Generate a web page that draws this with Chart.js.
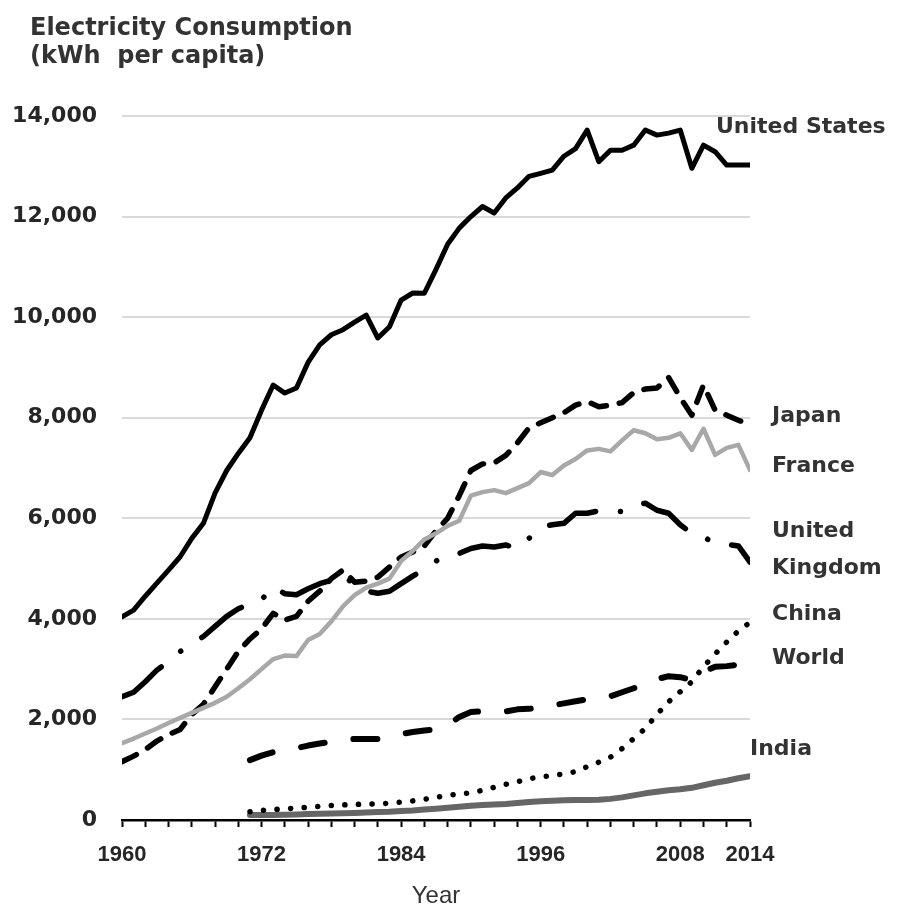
<!DOCTYPE html>
<html>
<head>
<meta charset="utf-8">
<script src="https://cdn.jsdelivr.net/npm/chart.js@4/dist/chart.umd.min.js"></script>
<style>
  html, body { margin: 0; padding: 0; background: #ffffff; }
  #wrap { width: 904px; height: 915px; }
</style>
</head>
<body>
<div id="wrap"><canvas id="c" width="904" height="915"></canvas></div>
<script>
// ---------- data ----------
const years = [1960,1961,1962,1963,1964,1965,1966,1967,1968,1969,
               1970,1971,1972,1973,1974,1975,1976,1977,1978,1979,
               1980,1981,1982,1983,1984,1985,1986,1987,1988,1989,
               1990,1991,1992,1993,1994,1995,1996,1997,1998,1999,
               2000,2001,2002,2003,2004,2005,2006,2007,2008,2009,
               2010,2011,2012,2013,2014];
const years1971 = [1971,1972,1973,1974,1975,1976,1977,1978,1979,
               1980,1981,1982,1983,1984,1985,1986,1987,1988,1989,
               1990,1991,1992,1993,1994,1995,1996,1997,1998,1999,
               2000,2001,2002,2003,2004,2005,2006,2007,2008,2009,
               2010,2011,2012,2013,2014];

const unitedStates = [4040,4175,4450,4710,4970,5235,5600,5900,6500,6950,
                      7290,7600,8150,8650,8490,8590,9100,9450,9650,9750,
                      9900,10040,9585,9810,10340,10480,10475,10950,11450,11770,
                      12000,12200,12070,12370,12570,12800,12860,12925,13200,13350,
                      13720,13090,13320,13320,13420,13720,13620,13660,13720,12960,
                      13420,13290,13025,13025,13025];
const japan = [1160,1270,1400,1570,1700,1800,2100,2300,2650,3000,
               3350,3600,3800,4110,3975,4050,4350,4550,4800,4970,
               4730,4750,4830,5030,5230,5330,5450,5750,6000,6450,
               6950,7080,7100,7250,7500,7800,7900,8000,8100,8250,
               8320,8220,8250,8300,8500,8570,8590,8800,8400,8050,
               8650,8150,8050,7950,7870];
const france = [1530,1620,1720,1820,1930,2030,2130,2230,2330,2450,
                2620,2800,3000,3200,3270,3260,3580,3700,3950,4250,
                4470,4620,4700,4800,5150,5350,5580,5700,5850,5950,
                6450,6520,6560,6500,6600,6700,6920,6860,7050,7180,
                7350,7380,7330,7550,7750,7690,7570,7600,7690,7360,
                7780,7260,7400,7460,6960];
const unitedKingdom = [2450,2540,2750,2980,3150,3350,3500,3650,3850,4050,
                       4200,4300,4380,4640,4500,4480,4600,4700,4770,4900,
                       4650,4550,4510,4550,4700,4850,4990,5150,5270,5300,
                       5400,5450,5430,5470,5400,5600,5830,5870,5900,6100,
                       6100,6150,6160,6130,6250,6300,6160,6100,5870,5700,
                       5630,5500,5480,5450,5130];
const world = [1190,1280,1350,1380,1430,1480,1520,1560,1600,
               1610,1610,1610,1650,1710,1750,1780,1800,1880,2050,
               2150,2160,2150,2160,2200,2210,2240,2280,2320,2360,
               2400,2420,2460,2540,2620,2700,2800,2860,2840,2780,
               2950,3050,3060,3090,3100];
const china = [165,190,210,215,240,250,270,290,300,
               310,315,320,335,355,380,410,450,490,520,
               540,590,650,710,760,820,860,880,920,960,
               1060,1150,1250,1420,1620,1820,2100,2350,2550,2750,
               3050,3300,3540,3760,3930];
const india = [100,100,100,105,110,120,125,130,135,
               140,150,160,165,180,190,210,225,245,265,
               285,300,310,320,340,360,375,385,395,400,
               400,405,420,450,490,530,560,590,610,640,
               690,740,780,830,870];

const xLabelYears = [1960,1972,1984,1996,2008,2014];
const yTicks = [0,2000,4000,6000,8000,10000,12000,14000];
const seriesNames = ['United States','Japan','France','United Kingdom','China','World','India'];
const titleLines = ['Electricity Consumption', '(kWh  per capita)'];
const xTitle = 'Year';

// ---------- helpers ----------
const pts = (xs, ys) => xs.map((x, i) => ({ x: x, y: ys[i] }));
const base = { pointRadius: 0, pointHoverRadius: 0, tension: 0, fill: false,
               borderJoinStyle: 'round', borderCapStyle: 'round' };

const labelPos = [
  { t: 'United States', x: 716, y: 127 },
  { t: 'Japan', x: 772, y: 416 },
  { t: 'France', x: 772, y: 466 },
  { t: 'United', x: 772, y: 531 },
  { t: 'Kingdom', x: 772, y: 568 },
  { t: 'China', x: 772, y: 614 },
  { t: 'World', x: 772, y: 658 },
  { t: 'India', x: 750, y: 749 }
];

const textPlugin = {
  id: 'texts',
  afterDraw(chart) {
    const ctx = chart.ctx;
    ctx.save();
    ctx.fillStyle = '#333333';
    ctx.textAlign = 'left';
    ctx.textBaseline = 'alphabetic';
    ctx.font = 'bold 24px "DejaVu Sans", sans-serif';
    ctx.fillText(titleLines[0], 30, 35);
    ctx.fillText(titleLines[1], 30, 63);
    ctx.textBaseline = 'middle';
    ctx.font = 'bold 22px "DejaVu Sans", sans-serif';
    labelPos.forEach(l => ctx.fillText(l.t, l.x, l.y));
    ctx.restore();
  }
};

new Chart(document.getElementById('c'), {
  type: 'line',
  data: {
    datasets: [
      Object.assign({ label: seriesNames[0], data: pts(years, unitedStates), borderColor: '#000000', borderWidth: 5 }, base),
      Object.assign({ label: seriesNames[2], data: pts(years, france), borderColor: '#a8a8a8', borderWidth: 4.5 }, base),
      Object.assign({ label: seriesNames[1], data: pts(years, japan), borderColor: '#000000', borderWidth: 5.5, borderDash: [16, 13] }, base),
      Object.assign({ label: seriesNames[3], data: pts(years, unitedKingdom), borderColor: '#000000', borderWidth: 5.5, borderDash: [50, 25, 0.1, 25] }, base),
      Object.assign({ label: seriesNames[5], data: pts(years1971, world), borderColor: '#000000', borderWidth: 6, borderDash: [24, 29] }, base),
      Object.assign({ label: seriesNames[4], data: pts(years1971, china), borderColor: '#000000', borderWidth: 5.5, borderDash: [0.1, 13.5] }, base),
      Object.assign({ label: seriesNames[6], data: pts(years1971, india), borderColor: '#666666', borderWidth: 6 }, base)
    ]
  },
  options: {
    responsive: false,
    animation: false,
    devicePixelRatio: 1,
    layout: { padding: { top: 116, right: 154, left: 0, bottom: 0 } },
    plugins: { legend: { display: false }, tooltip: { enabled: false }, title: { display: false } },
    scales: {
      x: {
        type: 'linear',
        min: 1960, max: 2014,
        afterFit: s => { s.height = 95; },
        ticks: {
          stepSize: 2, autoSkip: false, maxRotation: 0, minRotation: 0, padding: 15,
          color: '#262626',
          font: { family: '"Liberation Sans", Arial, sans-serif', size: 22, weight: 'bold' },
          callback: v => xLabelYears.includes(v) ? String(v) : ''
        },
        grid: { display: true, drawOnChartArea: false, drawTicks: true, tickLength: 7, tickColor: '#000000', tickWidth: 2, color: '#000000' },
        border: { display: true, color: '#000000', width: 2.5 },
        title: { display: true, text: xTitle, color: '#333333', padding: { top: 0, bottom: 4 },
                 font: { family: '"Liberation Sans", Arial, sans-serif', size: 24, weight: 'normal' } }
      },
      y: {
        min: 0, max: 14000,
        afterFit: s => { s.width = 122; },
        afterBuildTicks: s => { s.ticks = yTicks.map(v => ({ value: v })); },
        ticks: {
          padding: 25, color: '#262626',
          font: { family: '"DejaVu Sans", sans-serif', size: 22, weight: 'bold' },
          callback: v => v.toLocaleString('en-US')
        },
        grid: { drawTicks: false, lineWidth: 2,
                color: c => (c.tick && c.tick.value === 0) ? 'rgba(0,0,0,0)' : '#d9d9d9' },
        border: { display: false }
      }
    }
  },
  plugins: [textPlugin]
});
</script>
</body>
</html>
